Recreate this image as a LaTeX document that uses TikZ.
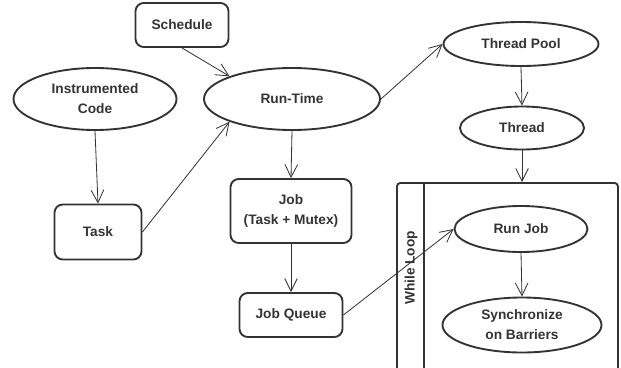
\documentclass[tikz,border=0pt]{standalone}
\usepackage{fontspec}
\setmainfont{Liberation Sans}
\usetikzlibrary{shapes.geometric,arrows.meta}
\definecolor{ink}{HTML}{333333}

\begin{document}
\begin{tikzpicture}[x=0.03cm, y=-0.03cm, line join=round,
  font=\fontsize{11.7}{17}\selectfont\bfseries,
  every node/.style={text=ink, align=center},
  oval/.style={draw=ink, line width=1.6pt, ellipse, inner sep=0pt},
  box/.style={draw=ink, line width=1.6pt, rounded corners=7pt, inner sep=0pt},
  frame/.style={draw=ink, line width=1.6pt, rounded corners=3pt, inner sep=0pt},
  flow/.style={draw=ink, line width=0.7pt, -{Straight Barb[length=3.8mm,width=3.8mm]}}]
\useasboundingbox (0,0) rectangle (621,368);
\clip (0,0) rectangle (621,368);

% left column and run-time
\node[box, minimum width=2.79cm, minimum height=1.32cm] (sched) at (182,25) {Schedule};
\node[oval, minimum width=4.89cm, minimum height=1.86cm] (code) at (95,99) {Instrumented\\Code};
\node[oval, minimum width=5.28cm, minimum height=1.86cm] (rt) at (292,99) {Run-Time};
\node[box, minimum width=2.61cm, minimum height=1.65cm] (task) at (98,232) {Task};
\node[box, minimum width=3.63cm, minimum height=1.92cm] (job) at (291,211) {Job\\(Task + Mutex)};
\node[box, minimum width=3.09cm, minimum height=1.32cm] (queue) at (291,315) {Job Queue};

% thread side
\node[oval, minimum width=4.65cm, minimum height=1.32cm] (pool) at (521,44) {Thread Pool};
\node[oval, minimum width=3.72cm, minimum height=1.29cm] (thread) at (522,128) {Thread};
\node[frame, anchor=north west, minimum width=6.63cm, minimum height=6.6cm] (loop) at (396,182) {};
\draw[ink, line width=1.6pt] (loop.north west) ++(28,0) -- ++(0,230);
\node[rotate=90] (wl) at (411,268) {While Loop};
\node[oval, minimum width=3.99cm, minimum height=1.38cm] (runjob) at (521,229) {Run Job};
\node[oval, minimum width=4.77cm, minimum height=1.65cm] (sync) at (522,325) {Synchronize\\on Barriers};

\draw[flow] (sched.south) -- (rt.160);
\draw[flow] (code.south) -- (task.north);
\draw[flow] (task.east) -- (rt.200);
\draw[flow] (rt.south) -- (job.north);
\draw[flow] (job.south) -- (queue.north);
\draw[flow] (rt.east) -- (pool.west);
\draw[flow] (pool.south) -- (thread.north);
\draw[flow] (thread.south) -- (thread.south |- loop.north);
\draw[flow] (queue.east) -- (runjob.west);
\draw[flow] (runjob.south) -- (sync.north);
\end{tikzpicture}
\end{document}
